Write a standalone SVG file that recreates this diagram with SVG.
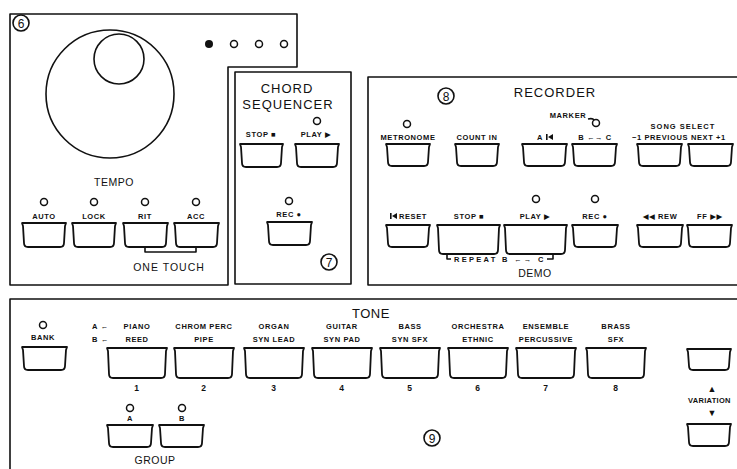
<svg xmlns="http://www.w3.org/2000/svg" width="737" height="469" viewBox="0 0 737 469">
<style>
.ln{fill:none;stroke:#111;stroke-width:1.6;stroke-linejoin:round}
.btn{fill:#fff;stroke:#111;stroke-width:1.8;stroke-linejoin:round}
.led{fill:#fff;stroke:#111;stroke-width:1.5}
.ic{fill:#111;stroke:none}
text{font-family:"Liberation Sans","DejaVu Sans",sans-serif;fill:#111;text-anchor:middle}
.s{font-size:7.5px;font-weight:bold;letter-spacing:0.6px}
.h{font-size:13px;letter-spacing:1px}
.m{font-size:10.5px;letter-spacing:0.5px}
.n{font-size:12px}
</style>
<rect width="737" height="469" fill="#fff"/>

<g id="tempo">
<path class="ln" d="M10,14 H297 V67 H228 V285 H10 Z"/>
<circle class="ln" cx="21" cy="23" r="8"/><text class="n" x="21" y="27.5">6</text>
<circle class="ln" cx="110" cy="94" r="64"/>
<circle class="ln" cx="119" cy="59" r="25"/>
<circle class="ic" cx="209" cy="44" r="4"/>
<circle class="led" cx="234" cy="44" r="3.5"/>
<circle class="led" cx="259" cy="44" r="3.5"/>
<circle class="led" cx="284" cy="44" r="3.5"/>
<text class="m" x="114" y="186">TEMPO</text>
<circle class="led" cx="44" cy="202" r="3.5"/>
<circle class="led" cx="94" cy="202" r="3.5"/>
<circle class="led" cx="145" cy="202" r="3.5"/>
<circle class="led" cx="196" cy="202" r="3.5"/>
<text class="s" x="44" y="219">AUTO</text>
<text class="s" x="94" y="219">LOCK</text>
<text class="s" x="145" y="219">RIT</text>
<text class="s" x="196" y="219">ACC</text>
<path class="btn" d="M22,223 H66 L65,226 L64,243 Q64,247 60,247 H28 Q24,247 24,243 L23,226 Z"/>
<path class="btn" d="M72,223 H116 L115,226 L114,243 Q114,247 110,247 H78 Q74,247 74,243 L73,226 Z"/>
<path class="btn" d="M123,223 H168 L167,226 L166,243 Q166,247 162,247 H129 Q125,247 125,243 L124,226 Z"/>
<path class="btn" d="M174,223 H219 L218,226 L217,243 Q217,247 213,247 H180 Q176,247 176,243 L175,226 Z"/>
<path class="ln" d="M145,248 V252 H196 V248" stroke-width="1.2"/>
<text class="m" x="169" y="271" style="letter-spacing:1px">ONE TOUCH</text>
</g>

<g id="chord">
<rect class="ln" x="235" y="72" width="116" height="212"/>
<text class="h" x="287" y="93">CHORD</text>
<text class="h" x="288" y="109">SEQUENCER</text>
<circle class="led" cx="317" cy="121" r="3.5"/>
<text class="s" x="261" y="137">STOP ■</text>
<text class="s" x="316" y="137">PLAY ▶</text>
<path class="btn" d="M240,144 H283 L282,147 L281,163 Q281,167 277,167 H246 Q242,167 242,163 L241,147 Z"/>
<path class="btn" d="M295,144 H339 L338,147 L337,163 Q337,167 333,167 H301 Q297,167 297,163 L296,147 Z"/>
<circle class="led" cx="289" cy="201" r="3.5"/>
<text class="s" x="289" y="217">REC ●</text>
<path class="btn" d="M267,222 H312 L311,225 L310,241 Q310,245 306,245 H273 Q269,245 269,241 L268,225 Z"/>
<circle class="ln" cx="329" cy="262" r="8"/><text class="n" x="329" y="266.5">7</text>
</g>

<g id="recorder">
<path class="ln" d="M740,77 H368 V285 H740"/>
<circle class="ln" cx="446" cy="96" r="8"/><text class="n" x="446" y="100.5">8</text>
<text class="h" x="555" y="97">RECORDER</text>
<text class="s" x="568" y="118">MARKER</text>
<path class="ln" d="M588,119 Q593,118 594,120" stroke-width="1"/>
<circle class="led" cx="596" cy="123" r="3.5"/>
<circle class="led" cx="407" cy="124" r="3.5"/>
<text class="s" x="683" y="129" style="letter-spacing:1px">SONG SELECT</text>
<text class="s" x="408" y="140">METRONOME</text>
<text class="s" x="477" y="140">COUNT IN</text>
<text class="s" x="540" y="140">A</text>
<path class="ic" d="M546,134 h1.6 v6 h-1.6 Z M548,137 L553,134 V140 Z"/>
<text class="s" x="595" y="140">B ←→ C</text>
<text class="s" x="660" y="140">−1 PREVIOUS</text>
<text class="s" x="691" y="140" style="text-anchor:start">NEXT +1</text>
<path class="btn" d="M386,144 H430 L429,147 L428,162 Q428,166 424,166 H392 Q388,166 388,162 L387,147 Z"/>
<path class="btn" d="M455,144 H499 L498,147 L497,162 Q497,166 493,166 H461 Q457,166 457,162 L456,147 Z"/>
<path class="btn" d="M522,144 H567 L566,147 L565,162 Q565,166 561,166 H528 Q524,166 524,162 L523,147 Z"/>
<path class="btn" d="M572,144 H617 L616,147 L615,162 Q615,166 611,166 H578 Q574,166 574,162 L573,147 Z"/>
<path class="btn" d="M637,144 H682 L681,147 L680,162 Q680,166 676,166 H643 Q639,166 639,162 L638,147 Z"/>
<path class="btn" d="M688,144 H733 L732,147 L731,162 Q731,166 727,166 H694 Q690,166 690,162 L689,147 Z"/>

<circle class="led" cx="536" cy="199" r="3.5"/>
<circle class="led" cx="595" cy="199" r="3.5"/>
<path class="ic" d="M390,213 h1.6 v6 h-1.6 Z M392,216 L397,213 V219 Z"/>
<text class="s" x="413" y="219">RESET</text>
<text class="s" x="469" y="219">STOP ■</text>
<text class="s" x="535" y="219">PLAY ▶</text>
<text class="s" x="595" y="219">REC ●</text>
<text class="s" x="660" y="219">◀◀ REW</text>
<text class="s" x="710" y="219">FF ▶▶</text>
<path class="btn" d="M386,225 H430 L429,228 L428,243 Q428,247 424,247 H392 Q388,247 388,243 L387,228 Z"/>
<path class="btn" d="M437,225 H500 L499,228 L498,250 Q498,254 494,254 H443 Q439,254 439,250 L438,228 Z"/>
<path class="btn" d="M504,225 H567 L566,228 L565,250 Q565,254 561,254 H510 Q506,254 506,250 L505,228 Z"/>
<path class="btn" d="M572,225 H618 L617,228 L616,243 Q616,247 612,247 H578 Q574,247 574,243 L573,228 Z"/>
<path class="btn" d="M637,225 H683 L682,228 L681,243 Q681,247 677,247 H643 Q639,247 639,243 L638,228 Z"/>
<path class="btn" d="M687,225 H732 L731,228 L730,243 Q730,247 726,247 H693 Q689,247 689,243 L688,228 Z"/>
<path class="ln" d="M447,254 V259 H451 M547,259 H553 V254" stroke-width="1.2"/>
<text class="s" x="499" y="261.5" textLength="90" lengthAdjust="spacing">REPEAT B ←→ C</text>
<text class="m" x="535" y="277">DEMO</text>
</g>

<g id="tone">
<path class="ln" d="M740,299 H10 V472"/>
<text class="h" x="371" y="318" style="letter-spacing:0.5px">TONE</text>
<circle class="led" cx="43" cy="325" r="3.5"/>
<text class="s" x="43" y="340">BANK</text>
<path class="btn" d="M22,347 H67 L66,350 L65,366 Q65,370 61,370 H28 Q24,370 24,366 L23,350 Z"/>
<text class="s" x="92" y="329" style="text-anchor:start">A ←</text>
<text class="s" x="92" y="342" style="text-anchor:start">B ←</text>
<text class="s" x="137" y="329">PIANO</text><text class="s" x="137" y="342">REED</text>
<text class="s" x="204" y="329">CHROM PERC</text><text class="s" x="204" y="342">PIPE</text>
<text class="s" x="274" y="329">ORGAN</text><text class="s" x="274" y="342">SYN LEAD</text>
<text class="s" x="342" y="329">GUITAR</text><text class="s" x="342" y="342">SYN PAD</text>
<text class="s" x="410" y="329">BASS</text><text class="s" x="410" y="342">SYN SFX</text>
<text class="s" x="478" y="329">ORCHESTRA</text><text class="s" x="478" y="342">ETHNIC</text>
<text class="s" x="546" y="329">ENSEMBLE</text><text class="s" x="546" y="342">PERCUSSIVE</text>
<text class="s" x="616" y="329">BRASS</text><text class="s" x="616" y="342">SFX</text>
<path class="btn" d="M107,348 H167 L166,351 L165,374 Q165,378 161,378 H113 Q109,378 109,374 L108,351 Z"/>
<path class="btn" d="M174,348 H234 L233,351 L232,374 Q232,378 228,378 H180 Q176,378 176,374 L175,351 Z"/>
<path class="btn" d="M244,348 H304 L303,351 L302,374 Q302,378 298,378 H250 Q246,378 246,374 L245,351 Z"/>
<path class="btn" d="M312,348 H372 L371,351 L370,374 Q370,378 366,378 H318 Q314,378 314,374 L313,351 Z"/>
<path class="btn" d="M380,348 H440 L439,351 L438,374 Q438,378 434,378 H386 Q382,378 382,374 L381,351 Z"/>
<path class="btn" d="M448,348 H508 L507,351 L506,374 Q506,378 502,378 H454 Q450,378 450,374 L449,351 Z"/>
<path class="btn" d="M516,348 H576 L575,351 L574,374 Q574,378 570,378 H522 Q518,378 518,374 L517,351 Z"/>
<path class="btn" d="M586,348 H646 L645,351 L644,374 Q644,378 640,378 H592 Q588,378 588,374 L587,351 Z"/>
<text class="s" x="137" y="391" style="font-size:8.5px">1</text>
<text class="s" x="204" y="391" style="font-size:8.5px">2</text>
<text class="s" x="274" y="391" style="font-size:8.5px">3</text>
<text class="s" x="342" y="391" style="font-size:8.5px">4</text>
<text class="s" x="410" y="391" style="font-size:8.5px">5</text>
<text class="s" x="478" y="391" style="font-size:8.5px">6</text>
<text class="s" x="546" y="391" style="font-size:8.5px">7</text>
<text class="s" x="616" y="391" style="font-size:8.5px">8</text>
<path class="btn" d="M687,349 H731 L730,352 L729,366 Q729,370 725,370 H693 Q689,370 689,366 L688,352 Z"/>
<text class="s" x="712" y="392" style="letter-spacing:0;font-size:9px">▲</text>
<text class="s" x="688" y="403" style="text-anchor:start;letter-spacing:0.3px">VARIATION</text>
<text class="s" x="712" y="416" style="letter-spacing:0;font-size:9px">▼</text>
<path class="btn" d="M687,424 H731 L730,427 L729,442 Q729,446 725,446 H693 Q689,446 689,442 L688,427 Z"/>
<circle class="led" cx="130" cy="408" r="3.5"/>
<circle class="led" cx="182" cy="408" r="3.5"/>
<text class="s" x="130" y="421">A</text>
<text class="s" x="182" y="421">B</text>
<path class="btn" d="M107,425 H153 L152,428 L151,443 Q151,447 147,447 H113 Q109,447 109,443 L108,428 Z"/>
<path class="btn" d="M159,425 H204 L203,428 L202,443 Q202,447 198,447 H165 Q161,447 161,443 L160,428 Z"/>
<text class="m" x="155" y="464">GROUP</text>
<circle class="ln" cx="432" cy="438" r="8"/><text class="n" x="432" y="442.5">9</text>
</g>
</svg>
